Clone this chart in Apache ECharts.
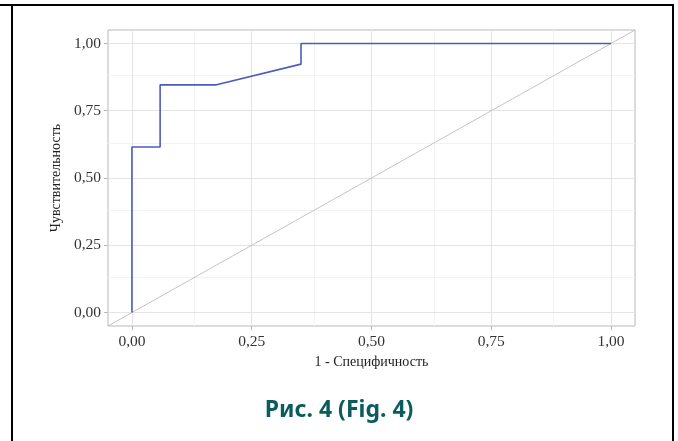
<!DOCTYPE html>
<html>
<head>
<meta charset="utf-8">
<script src="https://cdn.jsdelivr.net/npm/echarts@6/dist/echarts.min.js"></script>
<style>
html,body{margin:0;padding:0;background:#fff;}
#c{width:678px;height:441px;}
</style>
</head>
<body>
<div id="c"></div>
<script>
// ROC curve data (1 - specificity, sensitivity)
const fpr = [0, 0, 0.0588, 0.0588, 0.1765, 0.3529, 0.3529, 1];
const tpr = [0, 0.6154, 0.6154, 0.8462, 0.8462, 0.9231, 1, 1];
const diagX = [-0.05, 1.05];
const diagY = [-0.05, 1.05];
const majorTicks = [0, 0.25, 0.5, 0.75, 1];
const minorTicks = [0.125, 0.375, 0.625, 0.875];
const xTitle = '1 - Специфичность';
const yTitle = 'Чувствительность';
const caption = 'Рис. 4 (Fig. 4)';

const fmt = v => v.toFixed(2).replace('.', ',');
const serif = '"Liberation Serif", "DejaVu Serif", serif';

const gridLines = [];
minorTicks.forEach(t => { gridLines.push({xAxis: t, lineStyle: {color: '#f3f3f3', width: 1, type: 'solid'}}); gridLines.push({yAxis: t, lineStyle: {color: '#f3f3f3', width: 1, type: 'solid'}}); });
majorTicks.forEach(t => { gridLines.push({xAxis: t, lineStyle: {color: '#e4e4e4', width: 1, type: 'solid'}}); gridLines.push({yAxis: t, lineStyle: {color: '#e4e4e4', width: 1, type: 'solid'}}); });

const chart = echarts.init(document.getElementById('c'), null, {renderer: 'canvas'});
chart.setOption({
  animation: false,
  backgroundColor: '#fff',
  grid: {left: 108, right: 43, top: 30, bottom: 115, show: true, borderColor: '#b8b8b8', borderWidth: 1, backgroundColor: 'transparent'},
  xAxis: {
    type: 'value', min: -0.05, max: 1.05,
    name: xTitle, nameLocation: 'middle', nameGap: 27,
    nameTextStyle: {fontFamily: serif, fontSize: 14, color: '#222'},
    axisLine: {show: false, onZero: false},
    axisTick: {show: true, customValues: majorTicks, length: 4, lineStyle: {color: '#b8b8b8'}},
    axisLabel: {customValues: majorTicks, formatter: fmt, fontFamily: serif, fontSize: 15.5, color: '#333', margin: 8},
    splitLine: {show: false}
  },
  yAxis: {
    type: 'value', min: -0.05, max: 1.05,
    name: yTitle, nameLocation: 'middle', nameGap: 45, nameRotate: 90,
    nameTextStyle: {fontFamily: serif, fontSize: 14, color: '#222'},
    axisLine: {show: false, onZero: false},
    axisTick: {show: true, customValues: majorTicks, length: 4, lineStyle: {color: '#b8b8b8'}},
    axisLabel: {customValues: majorTicks, formatter: fmt, fontFamily: serif, fontSize: 15.5, color: '#333', margin: 7},
    splitLine: {show: false}
  },
  series: [
    {
      type: 'line', data: [], silent: true, z: 1,
      markLine: {silent: true, z: 1, symbol: 'none', label: {show: false}, animation: false, data: gridLines}
    },
    {
      type: 'line', data: diagX.map((x, i) => [x, diagY[i]]), showSymbol: false, symbol: 'none',
      lineStyle: {color: '#c4c4c4', width: 1}, clip: true, z: 2, silent: true
    },
    {
      type: 'line', data: fpr.map((x, i) => [x, tpr[i]]), showSymbol: false, symbol: 'none',
      lineStyle: {color: '#4a5cbf', width: 1.6}, clip: true, z: 3, silent: true
    }
  ],
  graphic: [
    {type: 'line', shape: {x1: 0, y1: 5, x2: 674, y2: 5}, style: {stroke: '#000', lineWidth: 2}},
    {type: 'line', shape: {x1: 12, y1: 5, x2: 12, y2: 441}, style: {stroke: '#000', lineWidth: 2}},
    {type: 'line', shape: {x1: 673, y1: 5, x2: 673, y2: 441}, style: {stroke: '#000', lineWidth: 2}},
    {type: 'text', left: 'center', top: 399, style: {text: caption, font: 'bold 23px "Noto Sans", sans-serif', fill: '#0b5c5c'}}
  ]
});
</script>
</body>
</html>
